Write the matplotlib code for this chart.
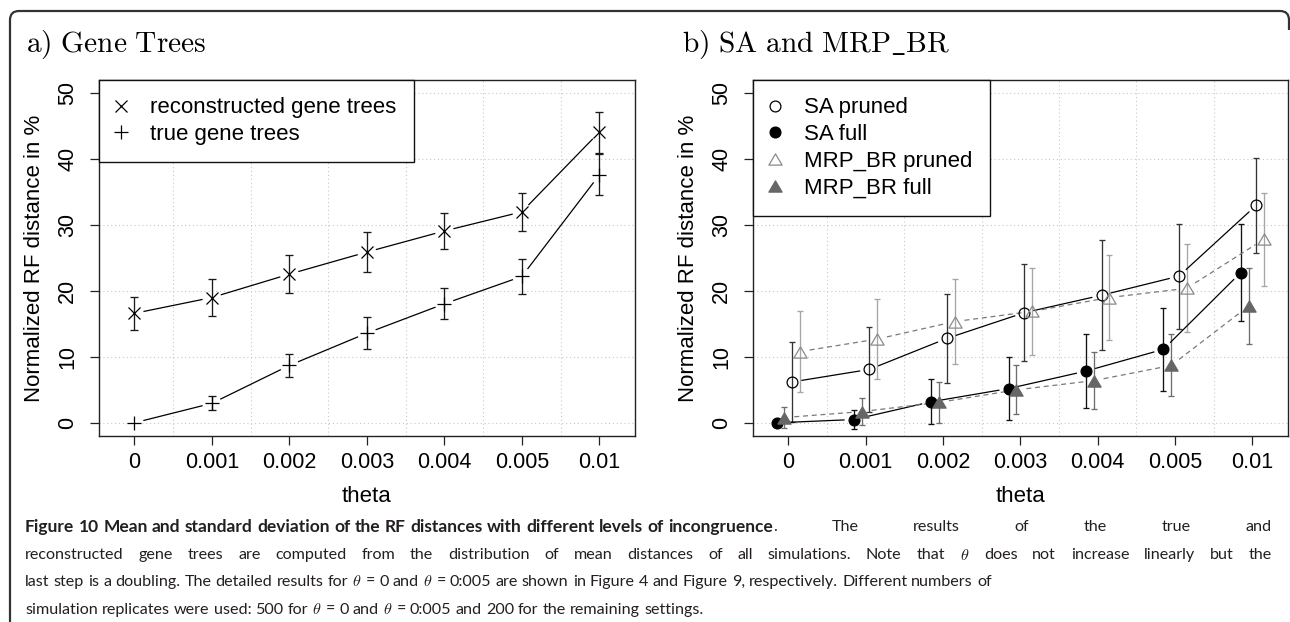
import numpy as np
import matplotlib
matplotlib.use("Agg")
import matplotlib.pyplot as plt
from matplotlib.lines import Line2D
from matplotlib.path import Path
from matplotlib.patches import PathPatch
from matplotlib.font_manager import FontProperties

W, H = 1290, 622
plt.rcParams['mathtext.fontset'] = 'cm'
plt.rcParams['font.family'] = ['Liberation Sans', 'DejaVu Sans']

# ---------------- data ----------------
theta_labels = ['0', '0.001', '0.002', '0.003', '0.004', '0.005', '0.01']

recon_mean = [16.6, 19.0, 22.55, 25.9, 29.1, 32.0, 44.1]
recon_sd = [2.55, 2.8, 2.85, 3.0, 2.8, 2.9, 3.1]
true_mean = [0.0, 2.95, 8.7, 13.6, 18.05, 22.2, 37.6]
true_sd = [0.0, 1.05, 1.8, 2.4, 2.35, 2.6, 3.1]

sa_pruned_mean = [6.2, 8.1, 12.8, 16.7, 19.35, 22.25, 33.0]
sa_pruned_sd = [6.1, 6.45, 6.7, 7.35, 8.35, 7.95, 7.2]
sa_full_mean = [0.0, 0.5, 3.2, 5.2, 7.85, 11.15, 22.8]
sa_full_sd = [0.0, 1.45, 3.4, 4.8, 5.65, 6.25, 7.4]
mrp_pruned_mean = [10.8, 12.7, 15.35, 16.9, 19.0, 20.4, 27.85]
mrp_pruned_sd = [6.1, 6.1, 6.45, 6.6, 6.5, 6.7, 7.05]
mrp_full_mean = [0.8, 1.7, 3.1, 5.0, 6.4, 8.7, 17.7]
mrp_full_sd = [1.6, 2.1, 3.1, 3.7, 4.3, 4.7, 5.8]

TICK_FS = 15.5
LAB_FS = 16.0
LEG_FS = 16.0

fig = plt.figure(figsize=(W / 100, H / 100), dpi=100)


def axes_px(x0, x1, ytop, ybot):
    return fig.add_axes([x0 / W, 1 - ybot / H, (x1 - x0) / W, (ybot - ytop) / H])


axL = axes_px(99, 635, 80, 436)
axR = axes_px(753, 1288, 80, 436)

xpos = np.arange(1, len(theta_labels) + 1)


def style_axes(ax):
    ax.set_xlim(0.545, 7.46)
    ax.set_ylim(-2, 52)
    ax.set_xticks(xpos)
    ax.set_xticklabels(theta_labels)
    ax.set_yticks([0, 10, 20, 30, 40, 50])
    ax.set_yticklabels(['0', '10', '20', '30', '40', '50'], rotation=90, va='center')
    ax.set_xticks(xpos[:-1] + 0.5, minor=True)
    ax.tick_params(which='major', direction='out', length=6.5, width=0.9,
                   labelsize=TICK_FS, color='#222222')
    ax.tick_params(axis='x', which='major', pad=5.0)
    ax.tick_params(axis='y', which='major', pad=8.5)
    ax.tick_params(which='minor', length=0)
    ax.grid(which='minor', axis='x', color='#c8c8c8', lw=0.8, ls=(0, (1, 2.5)))
    ax.grid(which='major', axis='y', color='#c8c8c8', lw=0.8, ls=(0, (1, 2.5)))
    ax.set_axisbelow(True)
    for s in ax.spines.values():
        s.set_color('#222222')
        s.set_linewidth(1.0)
    ax.set_xlabel('theta', fontsize=LAB_FS, va='center')
    ax.xaxis.set_label_coords(0.5, (436 - 497) / 356)
    ax.set_ylabel('Normalized RF distance in %', fontsize=LAB_FS, va='center')
    ax.yaxis.set_label_coords((34 - 99) / 536, 0.5)


style_axes(axL)
style_axes(axR)


def gapped_line(ax, xs, ys, gap=10, **kw):
    pts = ax.transData.transform(np.column_stack([xs, ys]))
    inv = ax.transData.inverted()
    for p0, p1 in zip(pts[:-1], pts[1:]):
        d = p1 - p0
        L = np.hypot(*d)
        if L <= 2 * gap:
            continue
        u = d / L
        a, b = inv.transform(np.array([p0 + u * gap, p1 - u * gap]))
        ax.plot([a[0], b[0]], [a[1], b[1]], **kw)


def ebar(ax, xs, m, sd, color, cap=2.3):
    xs = np.asarray(xs, float)
    m = np.asarray(m, float)
    sd = np.asarray(sd, float)
    k = sd > 0
    ax.errorbar(xs[k], m[k], yerr=sd[k], fmt='none', ecolor=color,
                elinewidth=0.95, capsize=cap, capthick=0.95, zorder=2)


# ---------------- left panel ----------------
ebar(axL, xpos, recon_mean, recon_sd, '#1a1a1a', cap=2.6)
ebar(axL, xpos, true_mean, true_sd, '#1a1a1a', cap=2.6)
gapped_line(axL, xpos, recon_mean, gap=10, color='k', lw=0.9, zorder=3)
gapped_line(axL, xpos, true_mean, gap=10, color='k', lw=0.9, zorder=3)
axL.plot(xpos, recon_mean, ls='none', marker='x', ms=8.8, mew=0.9, color='k', zorder=4)
axL.plot(xpos, true_mean, ls='none', marker='+', ms=10.5, mew=0.9, color='k', zorder=4)

leg_kw = dict(loc='upper left', fontsize=LEG_FS, frameon=True, fancybox=False,
              framealpha=1, edgecolor='#111111', borderaxespad=0, borderpad=0.78,
              labelspacing=0.26, handlelength=0.42, handletextpad=1.1)

hL = [Line2D([], [], ls='none', marker='x', ms=8.8, mew=0.9, color='k'),
      Line2D([], [], ls='none', marker='+', ms=10.5, mew=0.9, color='k')]
legL = axL.legend(hL, ['reconstructed gene trees', 'true gene trees'], **leg_kw)
legL.get_frame().set_linewidth(1.0)

# ---------------- right panel ----------------
tri = Path([(-1, -0.85), (1, -0.85), (0, 0.85), (-1, -0.85)],
           [Path.MOVETO, Path.LINETO, Path.LINETO, Path.CLOSEPOLY])

off = {'saf': -0.15, 'mrf': -0.05, 'sap': 0.05, 'mrp': 0.15}
ebar(axR, xpos + off['saf'], sa_full_mean, sa_full_sd, '#111111')
ebar(axR, xpos + off['mrf'], mrp_full_mean, mrp_full_sd, '#6e6e6e')
ebar(axR, xpos + off['sap'], sa_pruned_mean, sa_pruned_sd, '#333333')
ebar(axR, xpos + off['mrp'], mrp_pruned_mean, mrp_pruned_sd, '#a6a6a6')

gapped_line(axR, xpos + off['sap'], sa_pruned_mean, gap=10, color='k', lw=0.9, zorder=3)
gapped_line(axR, xpos + off['saf'], sa_full_mean, gap=10, color='k', lw=0.9, zorder=3)
gapped_line(axR, xpos + off['mrp'], mrp_pruned_mean, gap=10, color='#7a7a7a', lw=0.9,
            ls=(0, (4, 3)), zorder=3)
gapped_line(axR, xpos + off['mrf'], mrp_full_mean, gap=10, color='#7a7a7a', lw=0.9,
            ls=(0, (4, 3)), zorder=3)

axR.plot(xpos + off['sap'], sa_pruned_mean, ls='none', marker='o', ms=7.8, mew=0.9,
         mfc='none', mec='k', zorder=4)
axR.plot(xpos + off['saf'], sa_full_mean, ls='none', marker='o', ms=7.8, mew=0.9,
         mfc='k', mec='k', zorder=4)
axR.plot(xpos + off['mrp'], mrp_pruned_mean, ls='none', marker=tri, ms=9.5, mew=0.9,
         mfc='none', mec='#8a8a8a', zorder=4)
axR.plot(xpos + off['mrf'], mrp_full_mean, ls='none', marker=tri, ms=9.5, mew=0.9,
         mfc='#666666', mec='#666666', zorder=4)

hR = [Line2D([], [], ls='none', marker='o', ms=7.8, mew=0.9, mfc='none', mec='k'),
      Line2D([], [], ls='none', marker='o', ms=7.8, mew=0.9, mfc='k', mec='k'),
      Line2D([], [], ls='none', marker=tri, ms=9.5, mew=0.9, mfc='none', mec='#8a8a8a'),
      Line2D([], [], ls='none', marker=tri, ms=9.5, mew=0.9, mfc='#666666', mec='#666666')]
legR = axR.legend(hR, ['SA pruned', 'SA full', 'MRP_BR pruned', 'MRP_BR full'], **leg_kw)
legR.get_frame().set_linewidth(1.0)

# ---------------- titles ----------------
def mathtext_ok(s):
    try:
        from matplotlib.mathtext import MathTextParser
        MathTextParser('path').parse(s, dpi=100, prop=FontProperties(size=19))
        return True
    except Exception:
        return False


TFS = 21.2
fig.text(26 / W, 1 - 52 / H, r'$\mathrm{a)\ Gene\ Trees}$', fontsize=TFS, va='baseline')
tb = r'$\mathrm{b)\ SA\ and\ MRP\_BR}$'
if not mathtext_ok(tb):
    tb = r'$\mathrm{b)\ SA\ and\ MRP}$' + '_' + r'$\mathrm{BR}$'
fig.text(682 / W, 1 - 52 / H, tb, fontsize=TFS, va='baseline')

# ---------------- frame ----------------
r = 9
verts = [(10, H), (10, 11 + r), (10, 11), (10 + r, 11), (1289 - r, 11), (1289, 11),
         (1289, 11 + r), (1289, 30)]
codes = [Path.MOVETO, Path.LINETO, Path.CURVE3, Path.CURVE3, Path.LINETO, Path.CURVE3,
         Path.CURVE3, Path.LINETO]
vv = [(x / W, 1 - y / H) for x, y in verts]
fig.add_artist(PathPatch(Path(vv, codes), transform=fig.transFigure, fill=False,
                         lw=1.6, edgecolor='#333333'))

# ---------------- caption ----------------
CAP_FAMILY = ['Lato', 'Open Sans', 'DejaVu Sans']
cap_runs = [
    [("Figure 10 Mean and standard deviation of the RF distances with different levels of incongruence", 'bold'),
     (". The results of the true and", 'normal')],
    [("reconstructed gene trees are computed from the distribution of mean distances of all simulations. "
      "Note that $\\theta$ does not increase linearly but the", 'normal')],
    [("last step is a doubling. The detailed results for $\\theta$ = 0 and $\\theta$ = 0:005 are shown in "
      "Figure 4 and Figure 9, respectively. Different numbers of", 'normal')],
    [("simulation replicates were used: 500 for $\\theta$ = 0 and $\\theta$ = 0:005 and 200 for the "
      "remaining settings.", 'normal')],
]
justify = ['tail', 'full', None, None]
line_y = [527, 555, 582, 610]
X0, X1 = 25, 1272
LINE3_END = 990
BOLD_END = 768

renderer = fig.canvas.get_renderer()


def text_w(s, size, weight='normal'):
    t = fig.text(0, 0, s, fontsize=size, fontweight=weight, family=CAP_FAMILY)
    w = t.get_window_extent(renderer).width
    t.remove()
    return w


trial = 12.0
CFS = trial * (LINE3_END - X0) / text_w(cap_runs[2][0][0], trial)
space_nat = text_w('x x', CFS) - text_w('xx', CFS)
# bold lead: slightly larger so that it spans as far as in the reference
BFS = CFS * (BOLD_END - X0) / text_w(cap_runs[0][0][0], CFS, 'bold')
BFS = float(np.clip(BFS, CFS, CFS * 1.12))


def words_from_runs(runs):
    words, cur = [], []
    for text, wt in runs:
        parts = text.split(' ')
        for i, p in enumerate(parts):
            if i > 0 and cur:
                words.append(cur)
                cur = []
            if p:
                cur.append((p, wt))
    if cur:
        words.append(cur)
    return words


for runs, just, yy in zip(cap_runs, justify, line_y):
    words = words_from_runs(runs)
    objs = []
    for w in words:
        wobj = []
        for txt, wt in w:
            t = fig.text(0, 1 - yy / H, txt, fontsize=BFS if wt == 'bold' else CFS,
                         fontweight=wt, va='center', family=CAP_FAMILY, color='#231f20')
            wd = t.get_window_extent(renderer).width
            wobj.append((t, wd, wt))
        objs.append(wobj)
    widths = [sum(wd for _, wd, _ in wo) for wo in objs]
    n = len(objs)
    gaps = [space_nat] * (n - 1)
    if just == 'full' and n > 1:
        gaps = [(X1 - X0 - sum(widths)) / (n - 1)] * (n - 1)
    elif just == 'tail':
        bsp = space_nat * BFS / CFS
        nb = sum(1 for wo in objs if wo[0][2] == 'bold')
        ntail = n - nb
        stretch = (X1 - X0 - sum(widths) - bsp * (nb - 1)) / ntail
        gaps = [bsp] * (nb - 1) + [stretch] * ntail
    x = X0
    for i, (wo, wsum) in enumerate(zip(objs, widths)):
        xx = x
        for t, wd, _ in wo:
            t.set_x(xx / W)
            xx += wd
        x += wsum + (gaps[i] if i < n - 1 else 0)

fig.savefig('out.png', dpi=100)
